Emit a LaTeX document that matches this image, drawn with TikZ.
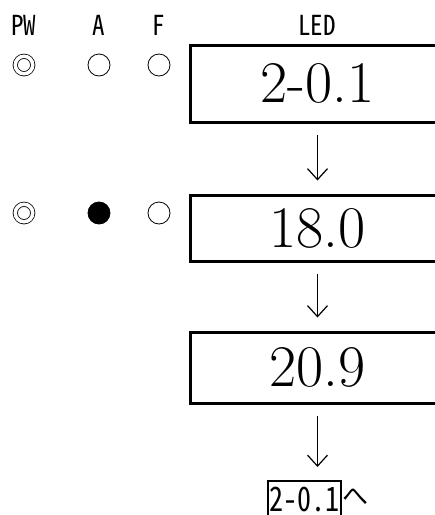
\documentclass[tikz,border=0pt]{standalone}
\usepackage{fontspec}
\usepackage{tikz}
\usetikzlibrary{arrows.meta}
\newfontfamily\gothic{Noto Sans CJK JP}
\newfontfamily\hankaku[RawFeature=+hwid]{Noto Sans CJK JP}

\begin{document}
\begin{tikzpicture}[x=1pt, y=-1pt,
  lamp/.style={draw, circle, line width=0.8pt, minimum size=22pt, inner sep=0pt},
  pwlamp/.style={draw, circle, line width=0.8pt, minimum size=17.5pt, inner sep=0pt,
    double=white, double distance=3.5pt},
  headlbl/.style={font=\hankaku\fontsize{25}{27}\selectfont, inner sep=0pt},
  ledbox/.style={draw, line width=3pt, minimum width=255pt, inner sep=0pt,
    font=\fontsize{59}{64}\selectfont},
  stepar/.style={-{Straight Barb[length=11pt, width=20pt]}, line width=1.2pt,
    shorten <=11pt, shorten >=13pt},
]
\clip (0,0) rectangle (435,515);
\fill[white] (0,0) rectangle (435,515);

% ── Headings ─────────────────────────────────────────────────────────────────
\node[headlbl] (pw)  at ( 24, 25.5) {\scalebox{1}[1.1]{PW}};
\node[headlbl] (a)   at ( 99, 25.5) {\scalebox{1}[1.1]{A}};
\node[headlbl] (f)   at (159, 25.5) {\scalebox{1}[1.1]{F}};
\node[headlbl] (led) at (317, 25.5) {\scalebox{1}[1.1]{LED}};

% ── Lamps ────────────────────────────────────────────────────────────────────
\node[pwlamp] (pw1) at ( 24, 65) {};
\node[lamp]   (a1)  at ( 99, 65) {};
\node[lamp]   (f1)  at (159, 65) {};
\node[pwlamp] (pw2) at ( 24, 213) {};
\node[lamp, fill=black] (a2) at ( 99, 213) {};
\node[lamp]   (f2)  at (159, 213) {};

% ── LED display ──────────────────────────────────────────────────────────────
\node[ledbox, minimum height=77pt] (disp1) at (317.5, 83.5)  {2-0.1};
\node[ledbox, minimum height=66pt] (disp2) at (317.5, 228)   {18.0};
\node[ledbox, minimum height=71pt] (disp3) at (317.5, 367.5) {20.9};
\node[draw, line width=1.6pt, minimum width=73pt, minimum height=40pt,
  inner sep=0pt, anchor=north, font=\hankaku\fontsize{28}{30}\selectfont]
  (next) at (304.5, 480) {\raisebox{4pt}{\scalebox{1}[1.2]{2-0.1}}};
\node[font=\gothic\fontsize{26}{28}\selectfont, inner sep=0pt] (to) at (355, 497) {へ};

% ── Steps ────────────────────────────────────────────────────────────────────
\draw[stepar] (disp1.south) -- (disp2.north);
\draw[stepar] (disp2.south) -- (disp3.north);
\draw[stepar] (disp3.south) -- (disp3.south |- next.north);

\end{tikzpicture}
\end{document}
